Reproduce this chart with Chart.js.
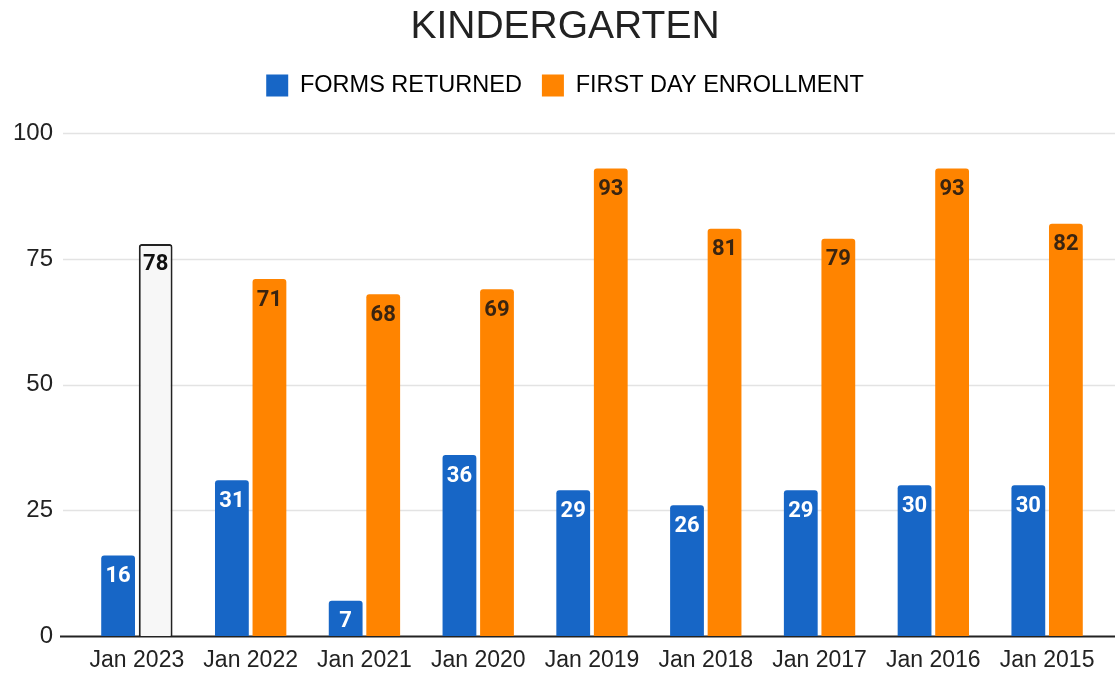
<!DOCTYPE html>
<html>
<head>
<meta charset="utf-8">
<script src="https://cdn.jsdelivr.net/npm/chart.js@4"></script>
<style>
    html, body { margin: 0; padding: 0; background: #fff; }
    #wrap { width: 1115px; height: 673px; }
</style>
</head>
<body>
<div id="wrap"><canvas id="kinderChart"></canvas></div>
<script>
const years = ['Jan 2023', 'Jan 2022', 'Jan 2021', 'Jan 2020', 'Jan 2019', 'Jan 2018', 'Jan 2017', 'Jan 2016', 'Jan 2015'];
const formsReturned = [16, 31, 7, 36, 29, 26, 29, 30, 30];
const firstDayEnrollment = [78, 71, 68, 69, 93, 81, 79, 93, 82];
const yTicks = [0, 25, 50, 75, 100];

const BLUE = '#1766c6';
const ORANGE = '#ff8400';

// current year not final yet -> drawn as an outlined white bar
const enrollFill = firstDayEnrollment.map((v, i) => i === 0 ? '#f7f7f7' : ORANGE);
const enrollBorder = firstDayEnrollment.map((v, i) => i === 0 ? 2 : 0);

// horizontal grid + baseline, running the full width like the original sheet chart
const gridPlugin = {
    id: 'wideGrid',
    beforeDatasetsDraw(chart) {
        const { ctx } = chart;
        const y = chart.scales.y;
        ctx.save();
        yTicks.forEach(t => {
            const py = Math.round(y.getPixelForValue(t)) + 0.5;
            ctx.beginPath();
            if (t === 0) {
                ctx.strokeStyle = '#222';
                ctx.lineWidth = 2;
            } else {
                ctx.strokeStyle = '#e3e3e3';
                ctx.lineWidth = 1.5;
            }
            ctx.moveTo(t === 0 ? 60 : 63, py);
            ctx.lineTo(chart.width, py);
            ctx.stroke();
        });
        ctx.restore();
    }
};

// title + legend sit a little right of the canvas centre
const headerShift = {
    id: 'headerShift',
    afterLayout(chart) {
        const dx = 13;
        [chart.titleBlock, chart.legend].forEach(box => {
            box.left += dx;
            box.right += dx;
        });
    }
};

// value labels inside the top of each bar
const valueLabels = {
    id: 'valueLabels',
    afterDatasetsDraw(chart) {
        const { ctx } = chart;
        ctx.save();
        ctx.font = 'bold 22px Roboto';
        ctx.textAlign = 'center';
        ctx.textBaseline = 'middle';
        chart.data.datasets.forEach((ds, di) => {
            chart.getDatasetMeta(di).data.forEach((bar, i) => {
                if (di === 0) ctx.fillStyle = '#ffffff';
                else ctx.fillStyle = i === 0 ? '#111' : '#3a2410';
                ctx.fillText(String(ds.data[i]), bar.x, bar.y + 21);
            });
        });
        ctx.restore();
    }
};

new Chart(document.getElementById('kinderChart'), {
    type: 'bar',
    data: {
        labels: years,
        datasets: [{
            label: 'FORMS RETURNED',
            data: formsReturned,
            backgroundColor: BLUE,
            borderRadius: { topLeft: 3, topRight: 3 },
            borderSkipped: 'bottom',
            barPercentage: 0.9,
            categoryPercentage: 0.66
        }, {
            label: 'FIRST DAY ENROLLMENT',
            data: firstDayEnrollment,
            backgroundColor: enrollFill,
            borderColor: '#222',
            borderWidth: enrollBorder,
            borderRadius: { topLeft: 3, topRight: 3 },
            borderSkipped: 'bottom',
            barPercentage: 0.9,
            categoryPercentage: 0.66
        }]
    },
    options: {
        responsive: true,
        maintainAspectRatio: false,
        animation: false,
        layout: { padding: { left: 0, right: 11, top: 0, bottom: 0 } },
        plugins: {
            title: {
                display: true,
                text: 'KINDERGARTEN',
                color: '#222',
                font: { family: 'Liberation Sans', size: 39, weight: 'normal' },
                padding: { top: 4, bottom: 3 }
            },
            // empty subtitle used as a spacer between legend and plot
            subtitle: {
                display: true,
                text: '',
                weight: 500,
                font: { size: 10, lineHeight: 1 },
                padding: { top: 16, bottom: 0 }
            },
            legend: {
                labels: {
                    color: '#222',
                    font: { family: 'Liberation Sans', size: 23.5 },
                    boxWidth: 22,
                    boxHeight: 22,
                    padding: 20,
                    generateLabels(chart) {
                        return chart.data.datasets.map((ds, i) => ({
                            text: ds.label,
                            fillStyle: i === 0 ? BLUE : ORANGE,
                            strokeStyle: i === 0 ? BLUE : ORANGE,
                            lineWidth: 0,
                            datasetIndex: i
                        }));
                    }
                }
            },
            tooltip: { enabled: false }
        },
        scales: {
            x: {
                afterFit(scale) { scale.height = 37; },
                grid: { display: false },
                border: { display: false },
                ticks: {
                    color: '#222',
                    font: { family: 'Liberation Sans', size: 23 },
                    padding: 3
                }
            },
            y: {
                min: 0,
                max: 100,
                afterFit(scale) { scale.width = 80; },
                afterBuildTicks(scale) { scale.ticks = yTicks.map(v => ({ value: v })); },
                grid: { display: false },
                border: { display: false },
                ticks: {
                    color: '#222',
                    font: { family: 'Liberation Sans', size: 24 },
                    padding: 19
                }
            }
        }
    },
    plugins: [gridPlugin, headerShift, valueLabels]
});
</script>
</body>
</html>
